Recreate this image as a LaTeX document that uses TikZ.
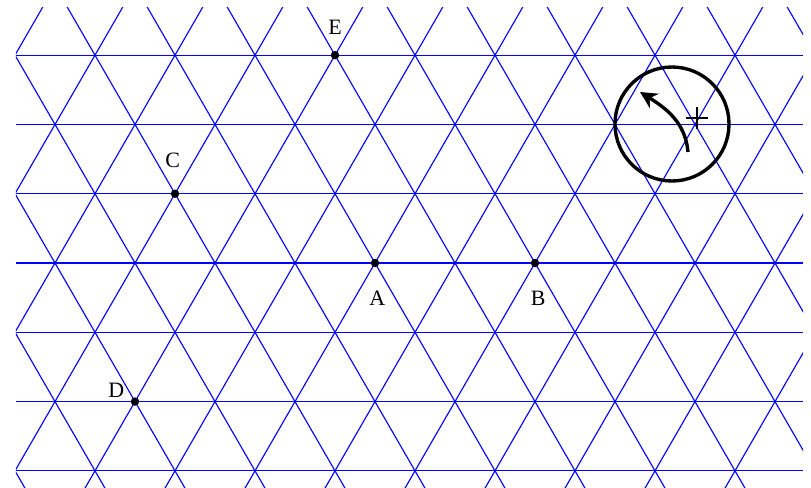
\documentclass[tikz,border=0pt]{standalone}
\usepackage{fontspec}
\setmainfont{Liberation Serif}
\usepackage{tikz}
\usetikzlibrary{arrows.meta}
\usetikzlibrary{positioning}

\tikzset{
  gridline/.style={draw=blue,line width=0.4pt},
  pt/.style={circle,fill=black,inner sep=0pt,minimum size=3pt},
  lbl/.style={font=\fontsize{7.8}{9}\selectfont,inner sep=1pt}
}

\begin{document}
\begin{tikzpicture}
        \useasboundingbox (-4.6875,-2.8) rectangle (5.45,3.2875);
        % triangular lattice
        \begin{scope}
            \clip (-4.4875,-2.8) rectangle (5.35,3.1875);
            \foreach \k in {-3,...,3}
                \draw[gridline] (-4.4875,\k*0.866)--(5.35,\k*0.866);
            \foreach \n in {-10,...,10}{
                \draw[gridline] (\n-2,-3.464)--(\n+2,3.464);
                \draw[gridline] (\n+2,-3.464)--(\n-2,3.464);
            }
        \end{scope}
        \node[pt] (A) at (0,0) {};
        \node[pt] (B) at (2,0) {};
        \node[pt] (C) at (-2.5,0.866) {};
        \node[pt] (D) at (-3,-1.732) {};
        \node[pt] (E) at (-0.5,2.598) {};
        \node[lbl,below=0.25 of A,xshift=0.03cm] (lA) {A};
        \node[lbl,below=0.25 of B,xshift=0.04cm] (lB) {B};
        \node[lbl,above=0.22 of C,xshift=-0.03cm] (lC) {C};
        \node[lbl,above=0.16 of E] (lE) {E};
        \node[lbl,above left=-0.04 and 0.05 of D] (lD) {D};
        % rotation
        \draw[line width=1.2pt] (3.7125,1.7375) circle (0.7125);
        \draw[line width=1.2pt,-{Stealth[length=6pt,width=6pt]}] (3.9125,1.3875) to[out=95,in=-32] (3.3125,2.1375);
        \draw[line width=0.7pt] (3.8875,1.8125)--(4.1625,1.8125);
        \draw[line width=0.7pt] (4.025,1.675)--(4.025,1.95);
\end{tikzpicture}
\end{document}
